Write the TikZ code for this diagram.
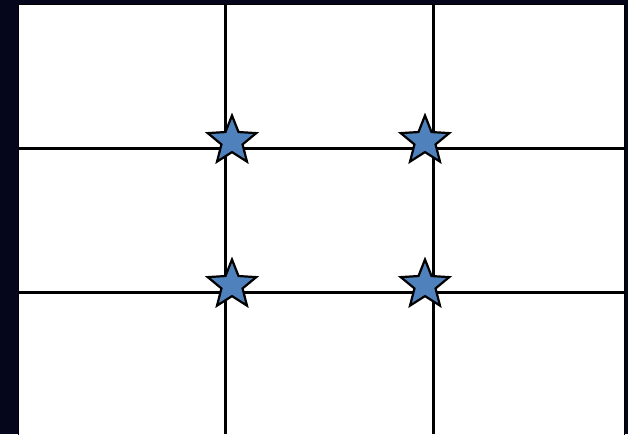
\documentclass[tikz,border=0pt]{standalone}
\usetikzlibrary{shapes.geometric}
\definecolor{bgnavy}{RGB}{5,5,28}
\definecolor{starblue}{RGB}{79,129,189}
\tikzset{
  gridline/.style={line width=3pt, black},
  starmark/.style={star, star points=5, star point ratio=2.3, minimum size=51pt, inner sep=0pt,
    fill=starblue, draw=black, line width=2.2pt, shape border rotate=0}
}
\begin{document}
\begin{tikzpicture}[x=1pt,y=-1pt]
\useasboundingbox (0,0) rectangle (628,434);
\fill[bgnavy] (0,0) rectangle (628,434);
\draw[fill=white, draw=black, line width=1pt] (18,4) rectangle (624,436);
\coordinate (v1t) at (225,4); \coordinate (v1b) at (225,434);
\coordinate (v2t) at (433,4); \coordinate (v2b) at (433,434);
\coordinate (h1l) at (18,148); \coordinate (h1r) at (624,148);
\coordinate (h2l) at (18,292); \coordinate (h2r) at (624,292);
\draw[gridline] (v1t) -- (v1b);
\draw[gridline] (v2t) -- (v2b);
\draw[gridline] (h1l) -- (h1r);
\draw[gridline] (h2l) -- (h2r);
\node[starmark] (s1) at (232,141) {};
\node[starmark] (s2) at (425,141) {};
\node[starmark] (s3) at (232,285) {};
\node[starmark] (s4) at (425,285) {};
\end{tikzpicture}
\end{document}
